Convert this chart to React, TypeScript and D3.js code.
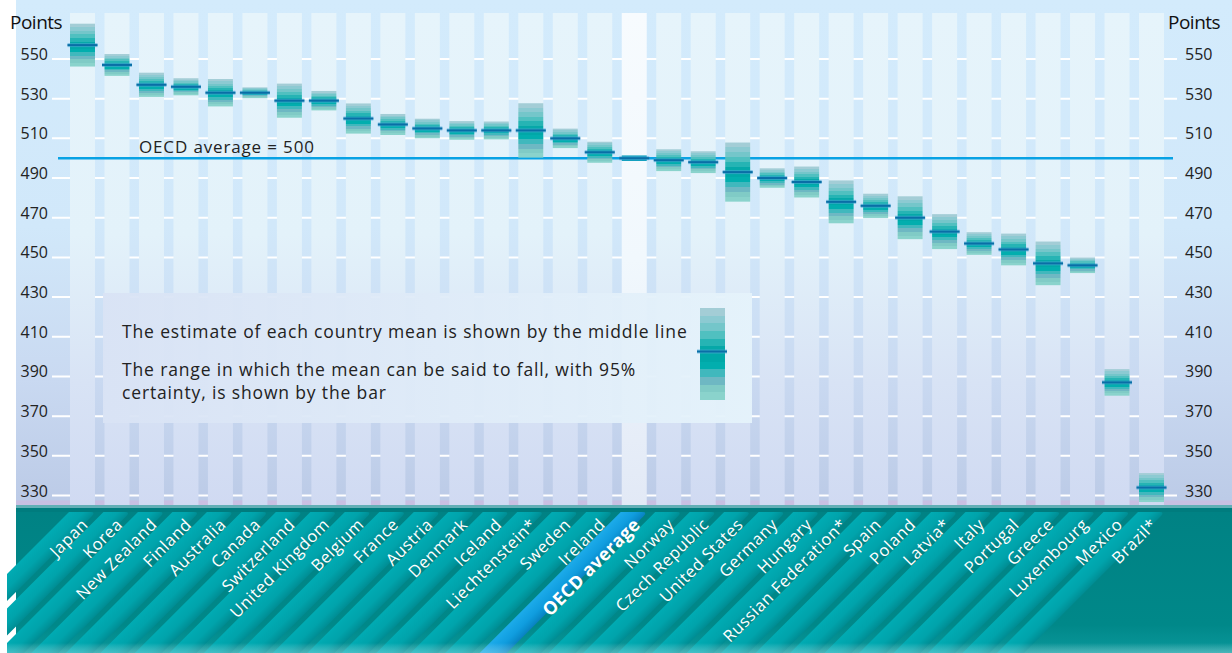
import React from 'react';
import * as d3 from 'd3';

const countries = ['Japan','Korea','New Zealand','Finland','Australia','Canada','Switzerland','United Kingdom','Belgium','France','Austria','Denmark','Iceland','Liechtenstein*','Sweden','Ireland','OECD average','Norway','Czech Republic','United States','Germany','Hungary','Russian Federation*','Spain','Poland','Latvia*','Italy','Portugal','Greece','Luxembourg','Mexico','Brazil*'];
const means = [557,547,537,536,533,533,529,529,520,517,515,514,514,514,510,503,500,499,498,493,490,488,478,476,470,463,457,454,447,446,387,334];
const lower = [546.2,541.5,530.9,531.7,526.1,530.3,520.4,524.1,512.4,511.7,510.1,509.3,509.5,500.3,505.1,497.7,498.6,493.5,492.5,478.1,485.1,480.2,467.2,469.9,459.2,454.2,451.3,446.0,436.0,442.1,380.3,326.7];
const upper = [567.8,552.5,543.1,540.3,539.9,535.7,537.6,533.9,527.6,522.3,519.9,518.7,518.5,527.7,514.9,508.3,501.4,504.5,503.5,507.9,494.9,495.8,488.8,482.1,480.8,471.8,462.7,462.0,458.0,449.9,393.7,341.3];
const yTicks = [550,530,510,490,470,450,430,410,390,370,350,330];
const oecdAverage = 500;

const barColors = ['#a3cdd6','#8ccad2','#74c6ca','#50c0c0','#26b4b4','#06a8a8','#00a8a8','#02aeae','#40b8bd','#6eb8c3','#80cbc6','#8ad3cc'];

const W = 1232, H = 653;
const FONT = "'Open Sans', sans-serif";

export default function App() {
  const y = d3.scaleLinear().domain([330, 550]).range([495.5, 59]);
  const x = d3.scalePoint<string>().domain(countries).range([82.5, 1151.5]);
  const colW = 25;
  const plotTop = 13, plotBottom = 505;
  const bandTop = 512;
  const stripeW = 27, L = 220, r = 6;

  const stepStops = (colors: string[], prefix: string) => {
    const n = colors.length;
    const out: any[] = [];
    colors.forEach((c, k) => {
      out.push(<stop key={prefix + 'a' + k} offset={k / n} stopColor={c} />);
      out.push(<stop key={prefix + 'b' + k} offset={(k + 1) / n} stopColor={c} />);
    });
    return out;
  };

  const stripes = countries.map((c, i) => {
    const x0 = (x(c) as number) - 13.5;
    const T = bandTop;
    const d = `M${x0},${T} H${x0 + stripeW - r} Q${x0 + stripeW},${T} ${x0 + stripeW - r / Math.SQRT2},${T + r / Math.SQRT2} L${x0 + stripeW - L},${T + L} L${x0 - L},${T + L} Z`;
    return { c, i, x0, d, avg: c === 'OECD average' };
  });

  return (
    <svg width={W} height={H} style={{ position: 'absolute', left: 0, top: 0, background: '#fff' }} fontFamily={FONT}>
      <defs>
        <linearGradient id="bg" x1="0" y1="0" x2="0" y2={plotBottom} gradientUnits="userSpaceOnUse">
          <stop offset="0" stopColor="#d3ebfc" />
          <stop offset="0.45" stopColor="#d1e8fa" />
          <stop offset="0.75" stopColor="#c9d9f1" />
          <stop offset="0.99" stopColor="#bccbe7" />
          <stop offset="0.992" stopColor="#c9bfe2" />
          <stop offset="1" stopColor="#c9c0e2" />
        </linearGradient>
        <linearGradient id="colGrad" x1="0" y1={plotTop} x2="0" y2={plotBottom} gradientUnits="userSpaceOnUse">
          <stop offset="0" stopColor="#e6f4fb" />
          <stop offset="0.45" stopColor="#e3f2fa" />
          <stop offset="0.75" stopColor="#d8e3f5" />
          <stop offset="1" stopColor="#d0daf2" />
        </linearGradient>
        <linearGradient id="oecdColGrad" x1="0" y1={plotTop} x2="0" y2={plotBottom} gradientUnits="userSpaceOnUse">
          <stop offset="0" stopColor="#f7fbfe" />
          <stop offset="0.5" stopColor="#f1f8fd" />
          <stop offset="1" stopColor="#e2e9f6" />
        </linearGradient>
        <linearGradient id="barGrad" x1="0" y1="0" x2="0" y2="1">
          {stepStops(barColors, 'b')}
        </linearGradient>
        <linearGradient id="legendGrad" x1="0" y1="0" x2="1" y2="0">
          <stop offset="0" stopColor="#d9e3f5" />
          <stop offset="1" stopColor="#e5f3fb" />
        </linearGradient>
        <linearGradient id="bandGrad" x1="0" y1={bandTop} x2="0" y2={H} gradientUnits="userSpaceOnUse">
          <stop offset="0" stopColor="#008284" />
          <stop offset="0.8" stopColor="#008889" />
          <stop offset="1" stopColor="#0a979b" />
        </linearGradient>
        <linearGradient id="bottomFade" x1="0" y1="0" x2="0" y2="1">
          <stop offset="0" stopColor="#ffffff" stopOpacity={0} />
          <stop offset="1" stopColor="#bfeff2" stopOpacity={0.35} />
        </linearGradient>
        {stripes.map(s => (
          <linearGradient key={'sg' + s.i} id={'sg' + s.i} gradientUnits="userSpaceOnUse"
            x1={s.x0} y1={bandTop} x2={s.x0 + stripeW / 2} y2={bandTop + stripeW / 2}>
            {s.avg ? [
              <stop key="a" offset="0" stopColor="#1cabea" />,
              <stop key="b" offset="0.55" stopColor="#109ddf" />,
              <stop key="c" offset="0.85" stopColor="#0a8ccc" />,
              <stop key="d" offset="1" stopColor="#0a80c0" />,
            ] : [
              <stop key="a" offset="0" stopColor="#00abb3" />,
              <stop key="b" offset="0.55" stopColor="#00a3ab" />,
              <stop key="c" offset="0.82" stopColor="#00969d" />,
              <stop key="d" offset="1" stopColor="#008c93" />,
            ]}
          </linearGradient>
        ))}
        <clipPath id="bandClip">
          <rect x={7} y={bandTop} width={W - 7} height={H - bandTop} />
        </clipPath>
      </defs>

      {/* plot background */}
      <rect x={16} y={0} width={W - 16} height={plotBottom} fill="url(#bg)" />

      {/* gridlines */}
      {yTicks.map(t => (
        <line key={'g' + t} x1={52} x2={1177} y1={y(t)} y2={y(t)} stroke="#ffffff" strokeWidth={2} />
      ))}

      {/* columns */}
      {countries.map(c => (
        <rect key={'c' + c} x={(x(c) as number) - colW / 2} y={plotTop} width={colW} height={plotBottom - plotTop}
          fill={c === 'OECD average' ? 'url(#oecdColGrad)' : 'url(#colGrad)'} />
      ))}

      {/* OECD average line */}
      <line x1={58} x2={1173} y1={y(oecdAverage)} y2={y(oecdAverage)} stroke="#08a2e4" strokeWidth={2.5} />
      <text x={139} y={y(oecdAverage) - 5} fontSize={17} fill="#222" letterSpacing={0.85}>OECD average = 500</text>

      {/* bars */}
      {countries.map((c, i) => {
        const cx = x(c) as number;
        const isAvg = c === 'OECD average';
        return (
          <g key={'b' + c}>
            <rect x={cx - colW / 2} y={y(upper[i])} width={colW} height={y(lower[i]) - y(upper[i])}
              fill={isAvg ? '#0a9fbb' : 'url(#barGrad)'} />
            <line x1={cx - 15} x2={cx + 15} y1={y(means[i])} y2={y(means[i])} stroke="#4aa6d6" strokeOpacity={0.6} strokeWidth={4} />
            <line x1={cx - 15} x2={cx + 15} y1={y(means[i])} y2={y(means[i])} stroke="#0a6ea6" strokeWidth={2} />
          </g>
        );
      })}

      {/* legend */}
      <rect x={103} y={293} width={649} height={130} fill="url(#legendGrad)" fillOpacity={0.95} />
      <text x={122} y={338} fontSize={17.5} fill="#222" letterSpacing={0.85}>The estimate of each country mean is shown by the middle line</text>
      <text x={122} y={376} fontSize={17.5} fill="#222" letterSpacing={0.85}>The range in which the mean can be said to fall, with 95%</text>
      <text x={122} y={399} fontSize={17.5} fill="#222" letterSpacing={0.85}>certainty, is shown by the bar</text>
      <rect x={700} y={308} width={25} height={92} fill="url(#barGrad)" />
      <line x1={697} x2={727} y1={351.5} y2={351.5} stroke="#4aa6d6" strokeOpacity={0.6} strokeWidth={4} />
      <line x1={697} x2={727} y1={351.5} y2={351.5} stroke="#0a6ea6" strokeWidth={2} />

      {/* bottom band */}
      <rect x={16} y={plotBottom} width={W - 16} height={H - plotBottom} fill="url(#bandGrad)" />
      <rect x={16} y={plotBottom} width={W - 16} height={3} fill="#62afb6" />
      <rect x={16} y={plotBottom + 3} width={W - 16} height={4} fill="#007c7e" />
      <g clipPath="url(#bandClip)">
        {stripes.map(s => (
          <path key={'s' + s.i} d={s.d} fill={`url(#sg${s.i})`} />
        ))}
        <rect x={7} y={643} width={W - 7} height={10} fill="url(#bottomFade)" />
      </g>
      {countries.map(c => {
        const cx = x(c) as number;
        const isAvg = c === 'OECD average';
        return (
          <text key={'l' + c} transform={`translate(${cx + 2},${bandTop + 9}) rotate(-45)`}
            textAnchor="end" dominantBaseline="central" fill="#ffffff"
            fontSize={isAvg ? 18 : 16.5} fontWeight={isAvg ? 700 : 400} letterSpacing={isAvg ? 0.3 : 0.55}>
            {c}
          </text>
        );
      })}

      {/* axes labels */}
      {yTicks.map(t => (
        <text key={'tl' + t} x={48} y={y(t) + 1} textAnchor="end" fontSize={16} fill="#222">{t}</text>
      ))}
      {yTicks.map(t => (
        <text key={'tr' + t} x={1185} y={y(t) + 1} textAnchor="start" fontSize={16} fill="#222">{t}</text>
      ))}
      <text x={10} y={29} fontSize={19} fill="#111" letterSpacing={-0.5}>Points</text>
      <text x={1168} y={29} fontSize={19} fill="#111" letterSpacing={-0.5}>Points</text>
    </svg>
  );
}
